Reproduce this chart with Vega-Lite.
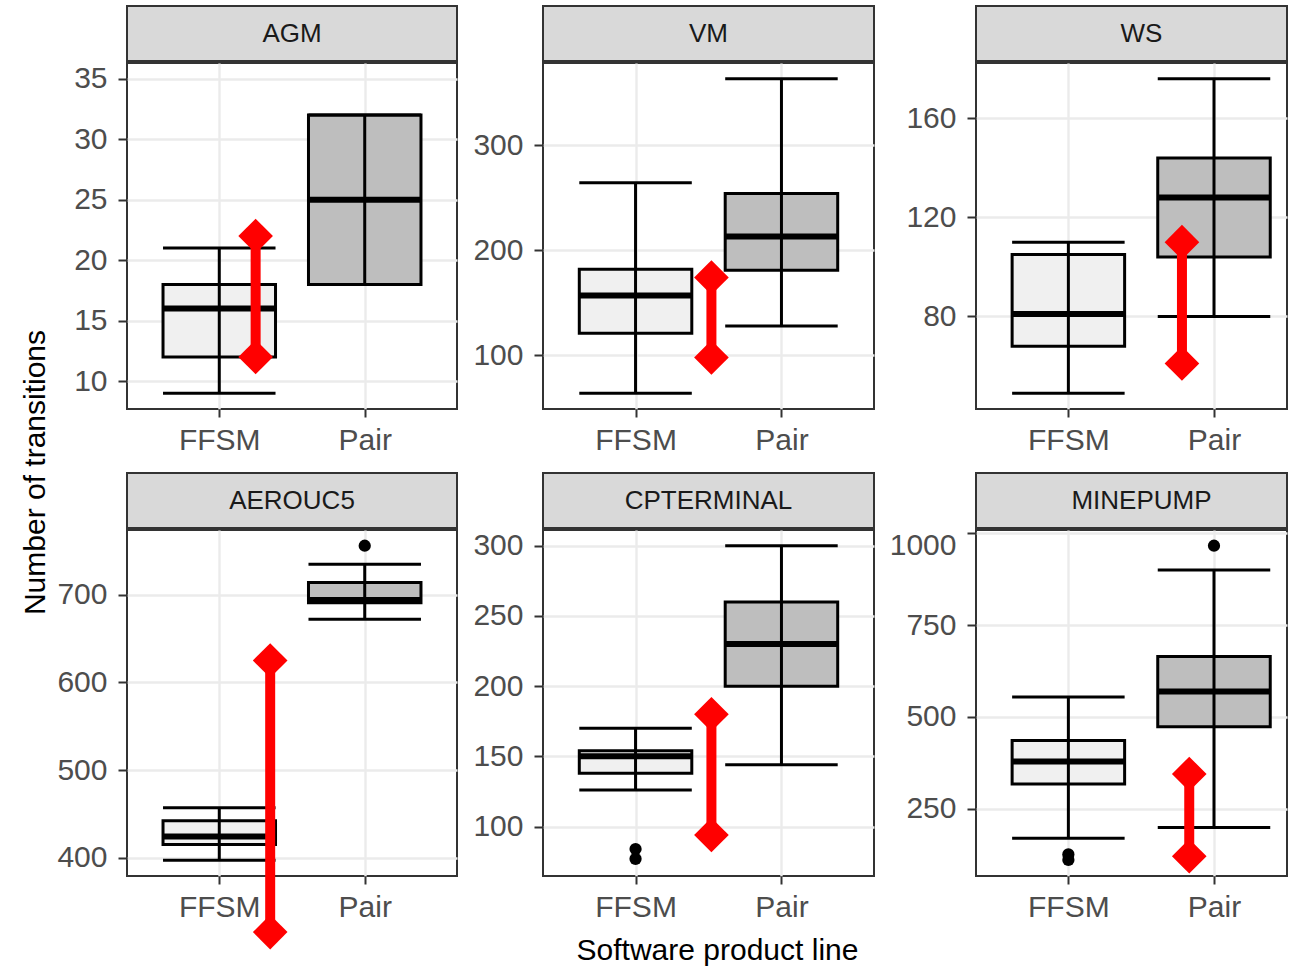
{
  "$schema": "https://vega.github.io/schema/vega-lite/v6.json",
  "padding": {"left": 20, "top": 5, "right": 0, "bottom": 0},
  "title": {"text": "Number of transitions", "orient": "left", "anchor": "middle", "fontSize": 30, "fontWeight": "normal", "color": "black", "offset": 5, "dx": 13},
  "columns": 3,
  "spacing": {"row": 0, "column": 13},
  "align": "each",
  "datasets": {
    "boxes": [
      {"panel": "AGM", "group": "FFSM", "x": 1, "lo": 9, "q1": 12, "med": 16, "q3": 18, "hi": 21},
      {"panel": "AGM", "group": "Pair", "x": 2, "lo": 18, "q1": 18, "med": 25, "q3": 32, "hi": 32},
      {"panel": "VM", "group": "FFSM", "x": 1, "lo": 64, "q1": 121, "med": 157, "q3": 182, "hi": 264},
      {"panel": "VM", "group": "Pair", "x": 2, "lo": 128, "q1": 181, "med": 213, "q3": 254, "hi": 363},
      {"panel": "WS", "group": "FFSM", "x": 1, "lo": 49, "q1": 68, "med": 81, "q3": 105, "hi": 110},
      {"panel": "WS", "group": "Pair", "x": 2, "lo": 80, "q1": 104, "med": 128, "q3": 144, "hi": 176},
      {"panel": "AEROUC5", "group": "FFSM", "x": 1, "lo": 397, "q1": 415, "med": 424, "q3": 442, "hi": 457},
      {"panel": "AEROUC5", "group": "Pair", "x": 2, "lo": 672, "q1": 691, "med": 694, "q3": 714, "hi": 735},
      {"panel": "CPTERMINAL", "group": "FFSM", "x": 1, "lo": 126, "q1": 138, "med": 150, "q3": 154, "hi": 170},
      {"panel": "CPTERMINAL", "group": "Pair", "x": 2, "lo": 144, "q1": 200, "med": 230, "q3": 260, "hi": 300},
      {"panel": "MINEPUMP", "group": "FFSM", "x": 1, "lo": 169, "q1": 317, "med": 378, "q3": 435, "hi": 554},
      {"panel": "MINEPUMP", "group": "Pair", "x": 2, "lo": 198, "q1": 473, "med": 569, "q3": 664, "hi": 900}
    ],
    "outliers": [
      {"panel": "AEROUC5", "x": 2, "value": 756},
      {"panel": "CPTERMINAL", "x": 1, "value": 84},
      {"panel": "CPTERMINAL", "x": 1, "value": 77},
      {"panel": "MINEPUMP", "x": 1, "value": 125},
      {"panel": "MINEPUMP", "x": 1, "value": 110},
      {"panel": "MINEPUMP", "x": 2, "value": 966}
    ],
    "refs": [
      {"panel": "AGM", "value": 35},
      {"panel": "VM", "value": 197},
      {"panel": "WS", "value": 112},
      {"panel": "AEROUC5", "value": 450},
      {"panel": "CPTERMINAL", "value": 176},
      {"panel": "MINEPUMP", "value": 573}
    ],
    "ranges": [
      {"panel": "AGM", "x": 1.25, "lo": 12, "hi": 22},
      {"panel": "VM", "x": 1.52, "lo": 98, "hi": 174},
      {"panel": "WS", "x": 1.78, "lo": 61, "hi": 110},
      {"panel": "AEROUC5", "x": 1.35, "lo": 315, "hi": 625},
      {"panel": "CPTERMINAL", "x": 1.52, "lo": 94, "hi": 180},
      {"panel": "MINEPUMP", "x": 1.83, "lo": 120, "hi": 344}
    ]
  },
  "concat": [
    {"width": 330, "height": 55, "view": {"fill": "#d9d9d9", "stroke": "#333333", "strokeWidth": 2}, "data": {"name": "refs"}, "transform": [{"filter": "datum.panel === 'AGM'"}], "mark": {"type": "text", "fontSize": 26, "color": "#1a1a1a", "baseline": "middle"}, "encoding": {"text": {"field": "panel"}}},
    {"width": 331, "height": 55, "view": {"fill": "#d9d9d9", "stroke": "#333333", "strokeWidth": 2}, "data": {"name": "refs"}, "transform": [{"filter": "datum.panel === 'VM'"}], "mark": {"type": "text", "fontSize": 26, "color": "#1a1a1a", "baseline": "middle"}, "encoding": {"text": {"field": "panel"}}},
    {"width": 311, "height": 55, "view": {"fill": "#d9d9d9", "stroke": "#333333", "strokeWidth": 2}, "data": {"name": "refs"}, "transform": [{"filter": "datum.panel === 'WS'"}], "mark": {"type": "text", "fontSize": 26, "color": "#1a1a1a", "baseline": "middle", "dx": 10}, "encoding": {"text": {"field": "panel"}}},

    {"width": 330, "height": 346, "resolve": {"axis": {"y": "independent"}},
     "encoding": {"x": {"field": "x", "type": "quantitative", "scale": {"domain": [0.4, 2.6], "nice": false, "zero": false}, "axis": {"values": [1, 2], "labelExpr": "datum.value == 1 ? 'FFSM' : 'Pair'", "title": " ", "titleFontSize": 8, "titlePadding": 8}}},
     "layer": [
      {"data": {"name": "boxes"}, "transform": [{"filter": "datum.panel === 'AGM'"}], "mark": {"type": "bar", "orient": "vertical", "size": 112.5, "stroke": "black", "strokeWidth": 3},
       "encoding": {"y": {"field": "q1", "type": "quantitative", "title": null, "scale": {"domain": [7.7, 36.3], "nice": false, "zero": false}, "axis": {"title": null, "format": "d", "values": [10, 15, 20, 25, 30, 35], "gridWidth": 2.4}}, "y2": {"field": "q3"}, "fill": {"field": "group", "type": "nominal", "scale": {"domain": ["FFSM", "Pair"], "range": ["#f0f0f0", "#bebebe"]}, "legend": null}}},
      {"data": {"name": "boxes"}, "transform": [{"filter": "datum.panel === 'AGM'"}], "mark": {"type": "tick", "orient": "horizontal", "size": 112.5, "thickness": 6, "color": "black", "opacity": 1},
       "encoding": {"y": {"field": "med", "type": "quantitative", "title": null, "scale": {"domain": [7.7, 36.3], "nice": false, "zero": false}, "axis": {"title": null, "orient": "right", "values": [12.5, 17.5, 22.5, 27.5, 32.5], "labels": false, "ticks": false, "domain": false, "gridWidth": 1.2}}}},
      {"data": {"name": "boxes"}, "transform": [{"filter": "datum.panel === 'AGM'"}], "mark": {"type": "rule", "strokeWidth": 3, "color": "black"},
       "encoding": {"y": {"field": "lo", "type": "quantitative", "title": null, "axis": null, "scale": {"domain": [7.7, 36.3], "nice": false, "zero": false}}, "y2": {"field": "hi"}}},
      {"data": {"name": "boxes"}, "transform": [{"filter": "datum.panel === 'AGM'"}, {"fold": ["lo", "hi"], "as": ["end", "w"]}], "mark": {"type": "tick", "orient": "horizontal", "size": 112.5, "thickness": 3, "color": "black", "opacity": 1},
       "encoding": {"y": {"field": "w", "type": "quantitative", "title": null, "axis": null, "scale": {"domain": [7.7, 36.3], "nice": false, "zero": false}}}},
      {"data": {"name": "refs"}, "transform": [{"filter": "datum.panel === 'AGM'"}], "mark": {"type": "rule", "color": "#F8766D", "strokeWidth": 3.5, "strokeDash": [15, 11]},
       "encoding": {"x": {"datum": 0.5, "type": "quantitative"}, "x2": {"datum": 2.5}, "y": {"field": "value", "type": "quantitative", "title": null, "axis": null, "scale": {"domain": [7.7, 36.3], "nice": false, "zero": false}}}},
      {"data": {"name": "ranges"}, "transform": [{"filter": "datum.panel === 'AGM'"}], "mark": {"type": "rule", "color": "#ff0000", "strokeWidth": 10},
       "encoding": {"y": {"field": "lo", "type": "quantitative", "title": null, "axis": null, "scale": {"domain": [7.7, 36.3], "nice": false, "zero": false}}, "y2": {"field": "hi"}}},
      {"data": {"name": "ranges"}, "transform": [{"filter": "datum.panel === 'AGM'"}, {"fold": ["lo", "hi"], "as": ["end", "w"]}], "mark": {"type": "point", "shape": "diamond", "size": 1200, "filled": true, "color": "#ff0000", "opacity": 1},
       "encoding": {"y": {"field": "w", "type": "quantitative", "title": null, "axis": null, "scale": {"domain": [7.7, 36.3], "nice": false, "zero": false}}}}
     ]},

    {"width": 331, "height": 346, "resolve": {"axis": {"y": "independent"}},
     "encoding": {"x": {"field": "x", "type": "quantitative", "scale": {"domain": [0.4, 2.6], "nice": false, "zero": false}, "axis": {"values": [1, 2], "labelExpr": "datum.value == 1 ? 'FFSM' : 'Pair'", "title": " ", "titleFontSize": 8, "titlePadding": 8}}},
     "layer": [
      {"data": {"name": "boxes"}, "transform": [{"filter": "datum.panel === 'VM'"}], "mark": {"type": "bar", "orient": "vertical", "size": 112.5, "stroke": "black", "strokeWidth": 3},
       "encoding": {"y": {"field": "q1", "type": "quantitative", "title": null, "scale": {"domain": [49.05, 377.95], "nice": false, "zero": false}, "axis": {"title": null, "format": "d", "values": [100, 200, 300], "gridWidth": 2.4}}, "y2": {"field": "q3"}, "fill": {"field": "group", "type": "nominal", "scale": {"domain": ["FFSM", "Pair"], "range": ["#f0f0f0", "#bebebe"]}, "legend": null}}},
      {"data": {"name": "boxes"}, "transform": [{"filter": "datum.panel === 'VM'"}], "mark": {"type": "tick", "orient": "horizontal", "size": 112.5, "thickness": 6, "color": "black", "opacity": 1},
       "encoding": {"y": {"field": "med", "type": "quantitative", "title": null, "scale": {"domain": [49.05, 377.95], "nice": false, "zero": false}, "axis": {"title": null, "orient": "right", "values": [50, 150, 250, 350], "labels": false, "ticks": false, "domain": false, "gridWidth": 1.2}}}},
      {"data": {"name": "boxes"}, "transform": [{"filter": "datum.panel === 'VM'"}], "mark": {"type": "rule", "strokeWidth": 3, "color": "black"},
       "encoding": {"y": {"field": "lo", "type": "quantitative", "title": null, "axis": null, "scale": {"domain": [49.05, 377.95], "nice": false, "zero": false}}, "y2": {"field": "hi"}}},
      {"data": {"name": "boxes"}, "transform": [{"filter": "datum.panel === 'VM'"}, {"fold": ["lo", "hi"], "as": ["end", "w"]}], "mark": {"type": "tick", "orient": "horizontal", "size": 112.5, "thickness": 3, "color": "black", "opacity": 1},
       "encoding": {"y": {"field": "w", "type": "quantitative", "title": null, "axis": null, "scale": {"domain": [49.05, 377.95], "nice": false, "zero": false}}}},
      {"data": {"name": "refs"}, "transform": [{"filter": "datum.panel === 'VM'"}], "mark": {"type": "rule", "color": "#F8766D", "strokeWidth": 3.5, "strokeDash": [15, 11]},
       "encoding": {"x": {"datum": 0.5, "type": "quantitative"}, "x2": {"datum": 2.5}, "y": {"field": "value", "type": "quantitative", "title": null, "axis": null, "scale": {"domain": [49.05, 377.95], "nice": false, "zero": false}}}},
      {"data": {"name": "ranges"}, "transform": [{"filter": "datum.panel === 'VM'"}], "mark": {"type": "rule", "color": "#ff0000", "strokeWidth": 10},
       "encoding": {"y": {"field": "lo", "type": "quantitative", "title": null, "axis": null, "scale": {"domain": [49.05, 377.95], "nice": false, "zero": false}}, "y2": {"field": "hi"}}},
      {"data": {"name": "ranges"}, "transform": [{"filter": "datum.panel === 'VM'"}, {"fold": ["lo", "hi"], "as": ["end", "w"]}], "mark": {"type": "point", "shape": "diamond", "size": 1200, "filled": true, "color": "#ff0000", "opacity": 1},
       "encoding": {"y": {"field": "w", "type": "quantitative", "title": null, "axis": null, "scale": {"domain": [49.05, 377.95], "nice": false, "zero": false}}}}
     ]},

    {"width": 311, "height": 346, "resolve": {"axis": {"y": "independent"}},
     "encoding": {"x": {"field": "x", "type": "quantitative", "scale": {"domain": [0.4, 2.467], "nice": false, "zero": false}, "axis": {"values": [1, 2], "labelExpr": "datum.value == 1 ? 'FFSM' : 'Pair'", "title": " ", "titleFontSize": 8, "titlePadding": 8}}},
     "layer": [
      {"data": {"name": "boxes"}, "transform": [{"filter": "datum.panel === 'WS'"}], "mark": {"type": "bar", "orient": "vertical", "size": 112.5, "stroke": "black", "strokeWidth": 3},
       "encoding": {"y": {"field": "q1", "type": "quantitative", "title": null, "scale": {"domain": [42.65, 182.35], "nice": false, "zero": false}, "axis": {"title": null, "format": "d", "values": [80, 120, 160], "gridWidth": 2.4}}, "y2": {"field": "q3"}, "fill": {"field": "group", "type": "nominal", "scale": {"domain": ["FFSM", "Pair"], "range": ["#f0f0f0", "#bebebe"]}, "legend": null}}},
      {"data": {"name": "boxes"}, "transform": [{"filter": "datum.panel === 'WS'"}], "mark": {"type": "tick", "orient": "horizontal", "size": 112.5, "thickness": 6, "color": "black", "opacity": 1},
       "encoding": {"y": {"field": "med", "type": "quantitative", "title": null, "scale": {"domain": [42.65, 182.35], "nice": false, "zero": false}, "axis": {"title": null, "orient": "right", "values": [60, 100, 140, 180], "labels": false, "ticks": false, "domain": false, "gridWidth": 1.2}}}},
      {"data": {"name": "boxes"}, "transform": [{"filter": "datum.panel === 'WS'"}], "mark": {"type": "rule", "strokeWidth": 3, "color": "black"},
       "encoding": {"y": {"field": "lo", "type": "quantitative", "title": null, "axis": null, "scale": {"domain": [42.65, 182.35], "nice": false, "zero": false}}, "y2": {"field": "hi"}}},
      {"data": {"name": "boxes"}, "transform": [{"filter": "datum.panel === 'WS'"}, {"fold": ["lo", "hi"], "as": ["end", "w"]}], "mark": {"type": "tick", "orient": "horizontal", "size": 112.5, "thickness": 3, "color": "black", "opacity": 1},
       "encoding": {"y": {"field": "w", "type": "quantitative", "title": null, "axis": null, "scale": {"domain": [42.65, 182.35], "nice": false, "zero": false}}}},
      {"data": {"name": "refs"}, "transform": [{"filter": "datum.panel === 'WS'"}], "mark": {"type": "rule", "color": "#F8766D", "strokeWidth": 3.5, "strokeDash": [15, 11], "clip": true},
       "encoding": {"x": {"datum": 0.5, "type": "quantitative"}, "x2": {"datum": 2.5}, "y": {"field": "value", "type": "quantitative", "title": null, "axis": null, "scale": {"domain": [42.65, 182.35], "nice": false, "zero": false}}}},
      {"data": {"name": "ranges"}, "transform": [{"filter": "datum.panel === 'WS'"}], "mark": {"type": "rule", "color": "#ff0000", "strokeWidth": 10},
       "encoding": {"y": {"field": "lo", "type": "quantitative", "title": null, "axis": null, "scale": {"domain": [42.65, 182.35], "nice": false, "zero": false}}, "y2": {"field": "hi"}}},
      {"data": {"name": "ranges"}, "transform": [{"filter": "datum.panel === 'WS'"}, {"fold": ["lo", "hi"], "as": ["end", "w"]}], "mark": {"type": "point", "shape": "diamond", "size": 1200, "filled": true, "color": "#ff0000", "opacity": 1},
       "encoding": {"y": {"field": "w", "type": "quantitative", "title": null, "axis": null, "scale": {"domain": [42.65, 182.35], "nice": false, "zero": false}}}}
     ]},

    {"width": 330, "height": 55, "view": {"fill": "#d9d9d9", "stroke": "#333333", "strokeWidth": 2}, "data": {"name": "refs"}, "transform": [{"filter": "datum.panel === 'AEROUC5'"}], "mark": {"type": "text", "fontSize": 26, "color": "#1a1a1a", "baseline": "middle"}, "encoding": {"text": {"field": "panel"}}},
    {"width": 331, "height": 55, "view": {"fill": "#d9d9d9", "stroke": "#333333", "strokeWidth": 2}, "data": {"name": "refs"}, "transform": [{"filter": "datum.panel === 'CPTERMINAL'"}], "mark": {"type": "text", "fontSize": 26, "color": "#1a1a1a", "baseline": "middle"}, "encoding": {"text": {"field": "panel"}}},
    {"width": 311, "height": 55, "view": {"fill": "#d9d9d9", "stroke": "#333333", "strokeWidth": 2}, "data": {"name": "refs"}, "transform": [{"filter": "datum.panel === 'MINEPUMP'"}], "mark": {"type": "text", "fontSize": 26, "color": "#1a1a1a", "baseline": "middle", "dx": 10}, "encoding": {"text": {"field": "panel"}}},

    {"width": 330, "height": 346, "resolve": {"axis": {"y": "independent"}},
     "encoding": {"x": {"field": "x", "type": "quantitative", "scale": {"domain": [0.4, 2.6], "nice": false, "zero": false}, "axis": {"values": [1, 2], "labelExpr": "datum.value == 1 ? 'FFSM' : 'Pair'", "title": null}}},
     "layer": [
      {"data": {"name": "boxes"}, "transform": [{"filter": "datum.panel === 'AEROUC5'"}], "mark": {"type": "bar", "orient": "vertical", "size": 112.5, "stroke": "black", "strokeWidth": 3},
       "encoding": {"y": {"field": "q1", "type": "quantitative", "title": null, "scale": {"domain": [379.05, 773.95], "nice": false, "zero": false}, "axis": {"title": null, "format": "d", "values": [400, 500, 600, 700], "gridWidth": 2.4}}, "y2": {"field": "q3"}, "fill": {"field": "group", "type": "nominal", "scale": {"domain": ["FFSM", "Pair"], "range": ["#f0f0f0", "#bebebe"]}, "legend": null}}},
      {"data": {"name": "boxes"}, "transform": [{"filter": "datum.panel === 'AEROUC5'"}], "mark": {"type": "tick", "orient": "horizontal", "size": 112.5, "thickness": 6, "color": "black", "opacity": 1},
       "encoding": {"y": {"field": "med", "type": "quantitative", "title": null, "scale": {"domain": [379.05, 773.95], "nice": false, "zero": false}, "axis": {"title": null, "orient": "right", "values": [450, 550, 650, 750], "labels": false, "ticks": false, "domain": false, "gridWidth": 1.2}}}},
      {"data": {"name": "boxes"}, "transform": [{"filter": "datum.panel === 'AEROUC5'"}], "mark": {"type": "rule", "strokeWidth": 3, "color": "black"},
       "encoding": {"y": {"field": "lo", "type": "quantitative", "title": null, "axis": null, "scale": {"domain": [379.05, 773.95], "nice": false, "zero": false}}, "y2": {"field": "hi"}}},
      {"data": {"name": "boxes"}, "transform": [{"filter": "datum.panel === 'AEROUC5'"}, {"fold": ["lo", "hi"], "as": ["end", "w"]}], "mark": {"type": "tick", "orient": "horizontal", "size": 112.5, "thickness": 3, "color": "black", "opacity": 1},
       "encoding": {"y": {"field": "w", "type": "quantitative", "title": null, "axis": null, "scale": {"domain": [379.05, 773.95], "nice": false, "zero": false}}}},
      {"data": {"name": "outliers"}, "transform": [{"filter": "datum.panel === 'AEROUC5'"}], "mark": {"type": "circle", "size": 150, "color": "black", "opacity": 1},
       "encoding": {"y": {"field": "value", "type": "quantitative", "title": null, "axis": null, "scale": {"domain": [379.05, 773.95], "nice": false, "zero": false}}}},
      {"data": {"name": "refs"}, "transform": [{"filter": "datum.panel === 'AEROUC5'"}], "mark": {"type": "rule", "color": "#F8766D", "strokeWidth": 3.5, "strokeDash": [15, 11]},
       "encoding": {"x": {"datum": 0.5, "type": "quantitative"}, "x2": {"datum": 2.5}, "y": {"field": "value", "type": "quantitative", "title": null, "axis": null, "scale": {"domain": [379.05, 773.95], "nice": false, "zero": false}}}},
      {"data": {"name": "ranges"}, "transform": [{"filter": "datum.panel === 'AEROUC5'"}], "mark": {"type": "rule", "color": "#ff0000", "strokeWidth": 10},
       "encoding": {"y": {"field": "lo", "type": "quantitative", "title": null, "axis": null, "scale": {"domain": [379.05, 773.95], "nice": false, "zero": false}}, "y2": {"field": "hi"}}},
      {"data": {"name": "ranges"}, "transform": [{"filter": "datum.panel === 'AEROUC5'"}, {"fold": ["lo", "hi"], "as": ["end", "w"]}], "mark": {"type": "point", "shape": "diamond", "size": 1200, "filled": true, "color": "#ff0000", "opacity": 1},
       "encoding": {"y": {"field": "w", "type": "quantitative", "title": null, "axis": null, "scale": {"domain": [379.05, 773.95], "nice": false, "zero": false}}}}
     ]},

    {"width": 331, "height": 346, "resolve": {"axis": {"y": "independent"}},
     "encoding": {"x": {"field": "x", "type": "quantitative", "scale": {"domain": [0.4, 2.6], "nice": false, "zero": false}, "axis": {"values": [1, 2], "labelExpr": "datum.value == 1 ? 'FFSM' : 'Pair'", "title": "Software product line", "titleX": 174, "titlePadding": 13}}},
     "layer": [
      {"data": {"name": "boxes"}, "transform": [{"filter": "datum.panel === 'CPTERMINAL'"}], "mark": {"type": "bar", "orient": "vertical", "size": 112.5, "stroke": "black", "strokeWidth": 3},
       "encoding": {"y": {"field": "q1", "type": "quantitative", "title": null, "scale": {"domain": [64.8, 311.2], "nice": false, "zero": false}, "axis": {"title": null, "format": "d", "values": [100, 150, 200, 250, 300], "gridWidth": 2.4}}, "y2": {"field": "q3"}, "fill": {"field": "group", "type": "nominal", "scale": {"domain": ["FFSM", "Pair"], "range": ["#f0f0f0", "#bebebe"]}, "legend": null}}},
      {"data": {"name": "boxes"}, "transform": [{"filter": "datum.panel === 'CPTERMINAL'"}], "mark": {"type": "tick", "orient": "horizontal", "size": 112.5, "thickness": 6, "color": "black", "opacity": 1},
       "encoding": {"y": {"field": "med", "type": "quantitative", "title": null, "scale": {"domain": [64.8, 311.2], "nice": false, "zero": false}, "axis": {"title": null, "orient": "right", "values": [75, 125, 175, 225, 275], "labels": false, "ticks": false, "domain": false, "gridWidth": 1.2}}}},
      {"data": {"name": "boxes"}, "transform": [{"filter": "datum.panel === 'CPTERMINAL'"}], "mark": {"type": "rule", "strokeWidth": 3, "color": "black"},
       "encoding": {"y": {"field": "lo", "type": "quantitative", "title": null, "axis": null, "scale": {"domain": [64.8, 311.2], "nice": false, "zero": false}}, "y2": {"field": "hi"}}},
      {"data": {"name": "boxes"}, "transform": [{"filter": "datum.panel === 'CPTERMINAL'"}, {"fold": ["lo", "hi"], "as": ["end", "w"]}], "mark": {"type": "tick", "orient": "horizontal", "size": 112.5, "thickness": 3, "color": "black", "opacity": 1},
       "encoding": {"y": {"field": "w", "type": "quantitative", "title": null, "axis": null, "scale": {"domain": [64.8, 311.2], "nice": false, "zero": false}}}},
      {"data": {"name": "outliers"}, "transform": [{"filter": "datum.panel === 'CPTERMINAL'"}], "mark": {"type": "circle", "size": 150, "color": "black", "opacity": 1},
       "encoding": {"y": {"field": "value", "type": "quantitative", "title": null, "axis": null, "scale": {"domain": [64.8, 311.2], "nice": false, "zero": false}}}},
      {"data": {"name": "refs"}, "transform": [{"filter": "datum.panel === 'CPTERMINAL'"}], "mark": {"type": "rule", "color": "#F8766D", "strokeWidth": 3.5, "strokeDash": [15, 11]},
       "encoding": {"x": {"datum": 0.5, "type": "quantitative"}, "x2": {"datum": 2.5}, "y": {"field": "value", "type": "quantitative", "title": null, "axis": null, "scale": {"domain": [64.8, 311.2], "nice": false, "zero": false}}}},
      {"data": {"name": "ranges"}, "transform": [{"filter": "datum.panel === 'CPTERMINAL'"}], "mark": {"type": "rule", "color": "#ff0000", "strokeWidth": 10},
       "encoding": {"y": {"field": "lo", "type": "quantitative", "title": null, "axis": null, "scale": {"domain": [64.8, 311.2], "nice": false, "zero": false}}, "y2": {"field": "hi"}}},
      {"data": {"name": "ranges"}, "transform": [{"filter": "datum.panel === 'CPTERMINAL'"}, {"fold": ["lo", "hi"], "as": ["end", "w"]}], "mark": {"type": "point", "shape": "diamond", "size": 1200, "filled": true, "color": "#ff0000", "opacity": 1},
       "encoding": {"y": {"field": "w", "type": "quantitative", "title": null, "axis": null, "scale": {"domain": [64.8, 311.2], "nice": false, "zero": false}}}}
     ]},

    {"width": 311, "height": 346, "resolve": {"axis": {"y": "independent"}},
     "encoding": {"x": {"field": "x", "type": "quantitative", "scale": {"domain": [0.4, 2.467], "nice": false, "zero": false}, "axis": {"values": [1, 2], "labelExpr": "datum.value == 1 ? 'FFSM' : 'Pair'", "title": null}}},
     "layer": [
      {"data": {"name": "boxes"}, "transform": [{"filter": "datum.panel === 'MINEPUMP'"}], "mark": {"type": "bar", "orient": "vertical", "size": 112.5, "stroke": "black", "strokeWidth": 3},
       "encoding": {"y": {"field": "q1", "type": "quantitative", "title": null, "scale": {"domain": [66.15, 1008.85], "nice": false, "zero": false}, "axis": {"title": null, "format": "d", "values": [250, 500, 750, 1000], "gridWidth": 2.4, "labelFlush": 6, "labelFlushOffset": 3}}, "y2": {"field": "q3"}, "fill": {"field": "group", "type": "nominal", "scale": {"domain": ["FFSM", "Pair"], "range": ["#f0f0f0", "#bebebe"]}, "legend": null}}},
      {"data": {"name": "boxes"}, "transform": [{"filter": "datum.panel === 'MINEPUMP'"}], "mark": {"type": "tick", "orient": "horizontal", "size": 112.5, "thickness": 6, "color": "black", "opacity": 1},
       "encoding": {"y": {"field": "med", "type": "quantitative", "title": null, "scale": {"domain": [66.15, 1008.85], "nice": false, "zero": false}, "axis": {"title": null, "orient": "right", "values": [125, 375, 625, 875], "labels": false, "ticks": false, "domain": false, "gridWidth": 1.2}}}},
      {"data": {"name": "boxes"}, "transform": [{"filter": "datum.panel === 'MINEPUMP'"}], "mark": {"type": "rule", "strokeWidth": 3, "color": "black"},
       "encoding": {"y": {"field": "lo", "type": "quantitative", "title": null, "axis": null, "scale": {"domain": [66.15, 1008.85], "nice": false, "zero": false}}, "y2": {"field": "hi"}}},
      {"data": {"name": "boxes"}, "transform": [{"filter": "datum.panel === 'MINEPUMP'"}, {"fold": ["lo", "hi"], "as": ["end", "w"]}], "mark": {"type": "tick", "orient": "horizontal", "size": 112.5, "thickness": 3, "color": "black", "opacity": 1},
       "encoding": {"y": {"field": "w", "type": "quantitative", "title": null, "axis": null, "scale": {"domain": [66.15, 1008.85], "nice": false, "zero": false}}}},
      {"data": {"name": "outliers"}, "transform": [{"filter": "datum.panel === 'MINEPUMP'"}], "mark": {"type": "circle", "size": 150, "color": "black", "opacity": 1},
       "encoding": {"y": {"field": "value", "type": "quantitative", "title": null, "axis": null, "scale": {"domain": [66.15, 1008.85], "nice": false, "zero": false}}}},
      {"data": {"name": "refs"}, "transform": [{"filter": "datum.panel === 'MINEPUMP'"}], "mark": {"type": "rule", "color": "#F8766D", "strokeWidth": 3.5, "strokeDash": [15, 11], "clip": true},
       "encoding": {"x": {"datum": 0.5, "type": "quantitative"}, "x2": {"datum": 2.5}, "y": {"field": "value", "type": "quantitative", "title": null, "axis": null, "scale": {"domain": [66.15, 1008.85], "nice": false, "zero": false}}}},
      {"data": {"name": "ranges"}, "transform": [{"filter": "datum.panel === 'MINEPUMP'"}], "mark": {"type": "rule", "color": "#ff0000", "strokeWidth": 10},
       "encoding": {"y": {"field": "lo", "type": "quantitative", "title": null, "axis": null, "scale": {"domain": [66.15, 1008.85], "nice": false, "zero": false}}, "y2": {"field": "hi"}}},
      {"data": {"name": "ranges"}, "transform": [{"filter": "datum.panel === 'MINEPUMP'"}, {"fold": ["lo", "hi"], "as": ["end", "w"]}], "mark": {"type": "point", "shape": "diamond", "size": 1200, "filled": true, "color": "#ff0000", "opacity": 1},
       "encoding": {"y": {"field": "w", "type": "quantitative", "title": null, "axis": null, "scale": {"domain": [66.15, 1008.85], "nice": false, "zero": false}}}}
     ]}
  ],
  "config": {
    "font": "Liberation Sans",
    "view": {"stroke": "#333333", "strokeWidth": 2},
    "axis": {"domain": false, "grid": true, "gridColor": "#ebebeb", "gridWidth": 2.4, "tickColor": "#333333", "tickSize": 9, "tickWidth": 2, "labelFontSize": 30, "labelColor": "#4d4d4d", "labelPadding": 11, "titleFontSize": 30, "titleColor": "black", "titleFontWeight": "normal", "minExtent": 0, "labelOverlap": false},
    "axisX": {"tickSize": 8, "labelPadding": 8}
  }
}
